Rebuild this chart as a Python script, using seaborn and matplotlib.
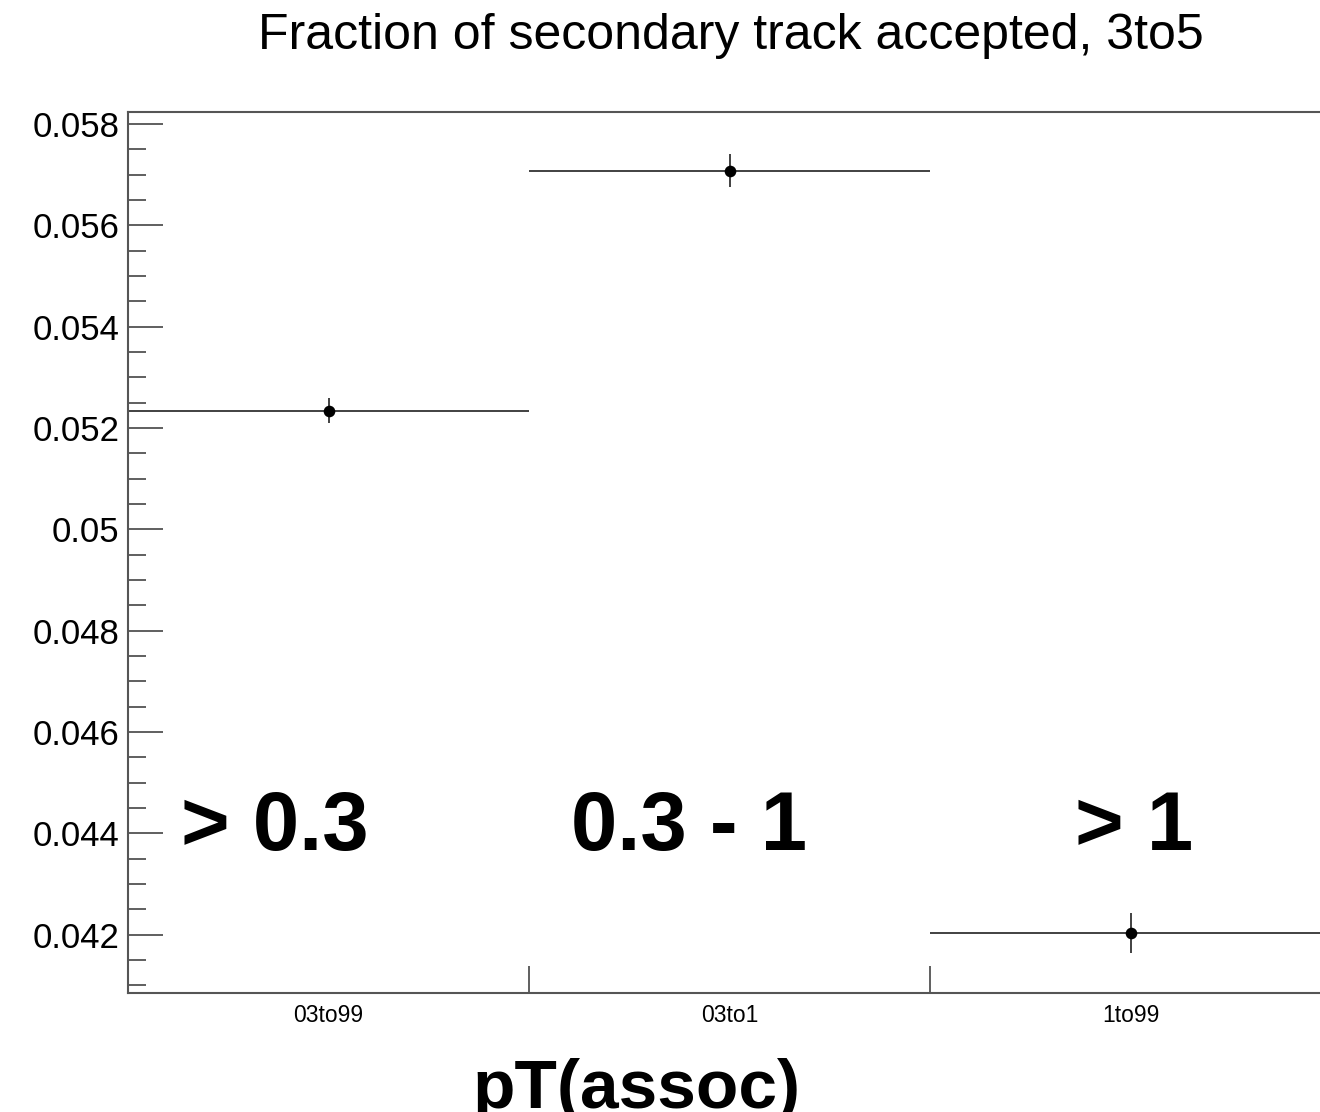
import matplotlib
matplotlib.use("Agg")
import matplotlib.pyplot as plt
import matplotlib.transforms as mtransforms
from matplotlib.ticker import MultipleLocator, FixedLocator, NullFormatter
import seaborn as sns
import pandas as pd
import numpy as np

categories = ["03to99", "03to1", "1to99"]
values = [0.05234, 0.05708, 0.04203]
errors = [0.00025, 0.00033, 0.00040]
range_labels = ["> 0.3", "0.3 - 1", "> 1"]
title = "Fraction of secondary track accepted, 3to5"
xlabel = "pT(assoc)"
ytick_values = [0.042, 0.044, 0.046, 0.048, 0.050, 0.052, 0.054, 0.056, 0.058]

sns.set_style("ticks")
plt.rcParams["font.family"] = ["Liberation Sans", "DejaVu Sans"]
plt.rcParams["text.color"] = "black"
plt.rcParams["xtick.color"] = "#444444"
plt.rcParams["ytick.color"] = "#444444"
plt.rcParams["xtick.labelcolor"] = "black"
plt.rcParams["ytick.labelcolor"] = "black"

df = pd.DataFrame({"cat": categories, "val": values, "err": errors})
df["x"] = np.arange(len(categories)) + 0.5

W, H = 1320, 1112
PT = 0.72  # points per pixel at dpi 100
fig = plt.figure(figsize=(W / 100, H / 100), dpi=100)
left, right, top, bottom = 128, 1331, 112, 993
ax = fig.add_axes([left / W, 1 - bottom / H, (right - left) / W, (bottom - top) / H])

ax.errorbar(df["x"], df["val"], yerr=df["err"], xerr=0.5, fmt="none",
            ecolor="#333333", elinewidth=1.3, capsize=0, zorder=2)
sns.scatterplot(data=df, x="x", y="val", ax=ax, color="black", s=70,
                edgecolor="black", linewidth=0, zorder=3, legend=False)

ax.set_xlim(0, 3)
ax.set_ylim(0.040849, 0.058237)

ax.set_yticks(ytick_values)
ax.set_yticklabels([("%.3f" % v).rstrip("0") for v in ytick_values])
ax.yaxis.set_minor_locator(MultipleLocator(0.0005))
ax.tick_params(axis="y", which="major", direction="in", length=35 * PT, width=1.2,
               labelsize=25, pad=6)
ax.tick_params(axis="y", which="minor", direction="in", length=18 * PT, width=1.2)

ax.xaxis.set_major_locator(FixedLocator([1, 2]))
ax.xaxis.set_major_formatter(NullFormatter())
ax.tick_params(axis="x", which="major", direction="in", length=27 * PT, width=1.2)
blend = mtransforms.blended_transform_factory(ax.transData, fig.transFigure)
for xi, c in zip(df["x"], categories):
    ax.text(xi, 1 - 1016 / H, c, transform=blend,
            ha="center", va="center", fontsize=16.5)

for s in ["left", "bottom", "top"]:
    ax.spines[s].set_color("#555555")
    ax.spines[s].set_linewidth(1.5)
ax.spines["right"].set_visible(False)
ax.set_xlabel("")
ax.set_ylabel("")

label_x = [0.365, 1.40, 2.51]
for xi, lab in zip(label_x, range_labels):
    ax.text(xi, 0.043666, lab, ha="center", va="baseline", fontsize=60,
            fontweight="bold", zorder=4)

fig.text(731 / W, 1 - 49 / H, title, ha="center", va="baseline", fontsize=36)
fig.text(636 / W, 1 - 1108 / H, xlabel, ha="center", va="baseline",
         fontsize=50, fontweight="bold")

fig.savefig("out.png", dpi=100)
